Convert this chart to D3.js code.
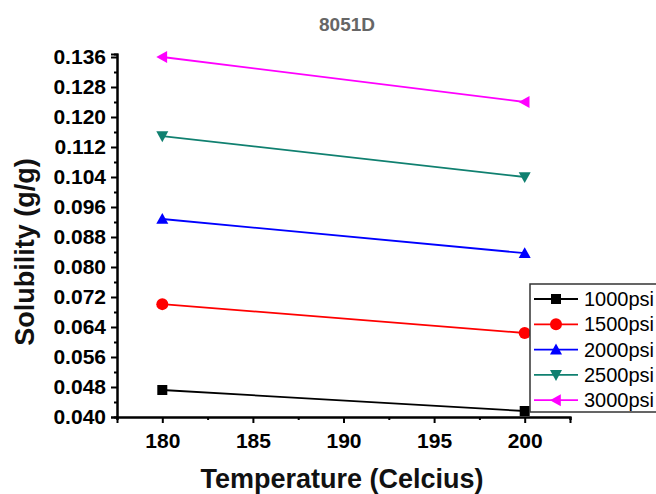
<!DOCTYPE html>
<meta charset="utf-8">
<style>
body { margin: 0; background: #fff; }
text { font-family: "Liberation Sans", Arial, sans-serif; }
</style>
<svg width="656" height="494"></svg>
<script src="https://d3js.org/d3.v7.min.js"></script>
<script>
var temps = [180, 200];
var seriesNames = ["1000psi", "1500psi", "2000psi", "2500psi", "3000psi"];
var s1000 = [0.0472, 0.0416];
var s1500 = [0.0701, 0.0624];
var s2000 = [0.0928, 0.0837];
var s2500 = [0.1149, 0.1040];
var s3000 = [0.1360, 0.1240];
var xTicks = [180, 185, 190, 195, 200];
var yTicks = [0.040, 0.048, 0.056, 0.064, 0.072, 0.080, 0.088, 0.096, 0.104, 0.112, 0.120, 0.128, 0.136];

var colors = ["#000000", "#ff0000", "#0000ff", "#108070", "#ff00ff"];
var symbols = ["square", "circle", "up", "down", "left"];
var series = [s1000, s1500, s2000, s2500, s3000];

var svg = d3.select("svg");
var x = d3.scaleLinear().domain([177.5, 202.5]).range([117, 570]);
var y = d3.scaleLinear().domain([0.040, 0.1368]).range([417, 54]);

// title
svg.append("text").attr("x", 347).attr("y", 31).attr("text-anchor", "middle")
  .attr("font-size", 19).attr("font-weight", "bold").attr("fill", "#666").text("8051D");

// axes
var yAxis = d3.axisLeft(y).tickValues(yTicks).tickFormat(d3.format(".3f")).tickSize(6).tickPadding(5);
var yMinor = d3.axisLeft(y).tickValues(yTicks.slice(0, -1).map(function(d) { return d + 0.004; })).tickSize(3).tickFormat("");
var xAxis = d3.axisBottom(x).tickValues(xTicks).tickFormat(d3.format("d")).tickSize(6).tickPadding(10);
var xMinor = d3.axisBottom(x).tickValues([177.5, 182.5, 187.5, 192.5, 197.5, 202.5]).tickSize(3).tickFormat("");

function styleAxis(g) {
  g.select(".domain").attr("stroke", "#000").attr("stroke-width", 2);
  g.selectAll(".tick line").attr("stroke", "#000").attr("stroke-width", 2);
  g.selectAll("text").attr("font-size", 21).attr("font-weight", "bold").attr("fill", "#000")
    .style("font-family", '"Liberation Sans", Arial, sans-serif');
}
svg.append("g").attr("transform", "translate(117,0)").call(yMinor).call(styleAxis);
svg.append("g").attr("transform", "translate(117,0)").call(yAxis).call(styleAxis);
svg.append("g").attr("transform", "translate(0,417)").call(xMinor).call(styleAxis);
svg.append("g").attr("transform", "translate(0,417)").call(xAxis).call(styleAxis);

// axis labels
svg.append("text").attr("x", 342).attr("y", 488).attr("text-anchor", "middle")
  .attr("font-size", 27).attr("font-weight", "bold").attr("fill", "#111").text("Temperature (Celcius)");
svg.append("text").attr("transform", "translate(34,252) rotate(-90)").attr("text-anchor", "middle")
  .attr("font-size", 27).attr("font-weight", "bold").attr("fill", "#111").text("Solubility (g/g)");

function marker(g, type, cx, cy, color) {
  var s = 6;
  if (type === "square") {
    g.append("rect").attr("x", cx - 5).attr("y", cy - 5).attr("width", 10).attr("height", 10).attr("fill", color);
  } else if (type === "circle") {
    g.append("circle").attr("cx", cx).attr("cy", cy).attr("r", 6).attr("fill", color);
  } else {
    var pts;
    if (type === "up") pts = [[cx, cy - s], [cx - s, cy + s * 0.8], [cx + s, cy + s * 0.8]];
    if (type === "down") pts = [[cx, cy + s], [cx - s, cy - s * 0.8], [cx + s, cy - s * 0.8]];
    if (type === "left") pts = [[cx - s, cy], [cx + s * 0.8, cy - s], [cx + s * 0.8, cy + s]];
    g.append("polygon").attr("points", pts.map(function(p) { return p.join(","); }).join(" ")).attr("fill", color);
  }
}

var line = d3.line().x(function(d, i) { return x(temps[i]); }).y(function(d) { return y(d); });
series.forEach(function(vals, k) {
  var g = svg.append("g");
  g.append("path").datum(vals).attr("d", line).attr("fill", "none")
    .attr("stroke", colors[k]).attr("stroke-width", 1.8);
  vals.forEach(function(v, i) { marker(g, symbols[k], x(temps[i]), y(v), colors[k]); });
});

// legend
var lg = svg.append("g");
lg.append("rect").attr("x", 530).attr("y", 284).attr("width", 140).attr("height", 128)
  .attr("fill", "#fff").attr("stroke", "#333").attr("stroke-width", 1.5);
seriesNames.forEach(function(name, k) {
  var ly = 299 + k * 25.3;
  lg.append("line").attr("x1", 534).attr("x2", 578).attr("y1", ly).attr("y2", ly)
    .attr("stroke", colors[k]).attr("stroke-width", 1.8);
  marker(lg, symbols[k], 556, ly, colors[k]);
  lg.append("text").attr("x", 584).attr("y", ly + 7).attr("font-size", 20).attr("fill", "#000").text(name);
});
</script>
